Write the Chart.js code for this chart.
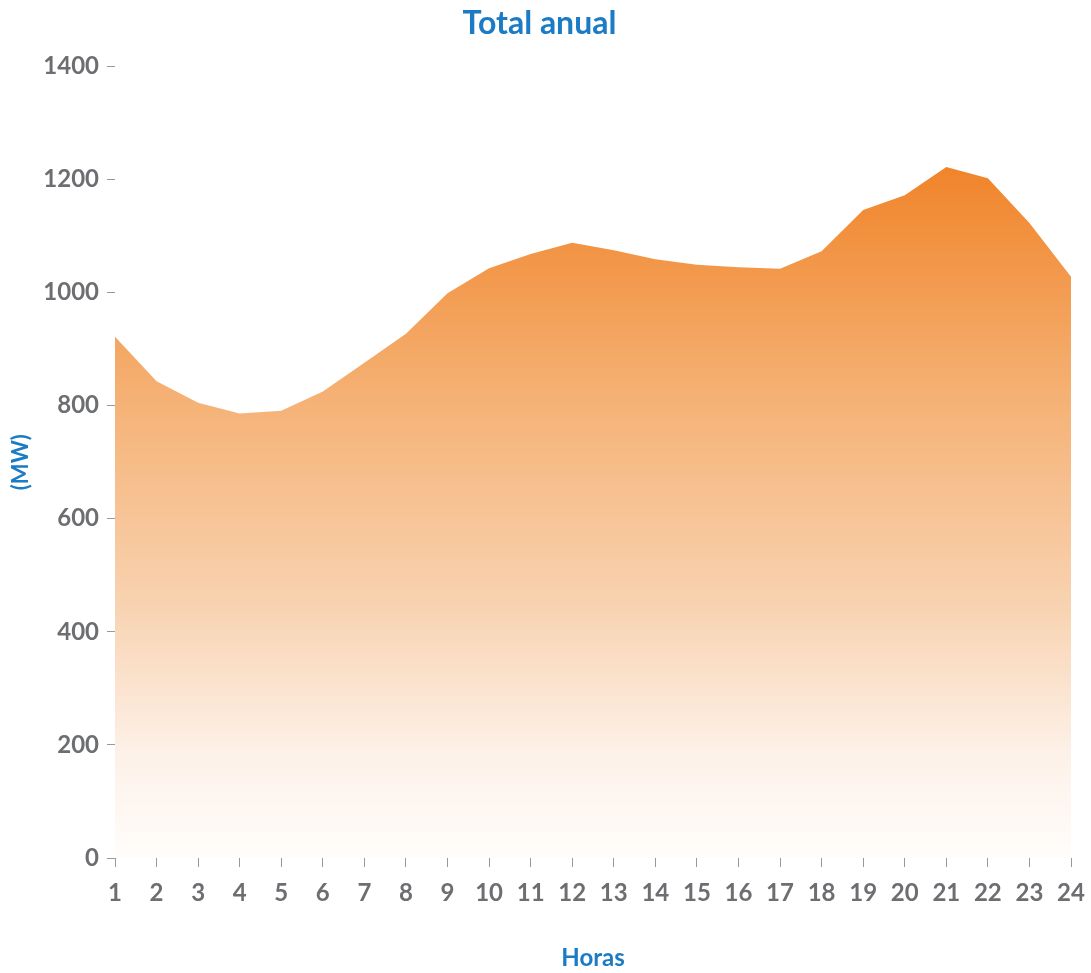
<!DOCTYPE html>
<html>
<head>
<meta charset="utf-8">
<script src="https://cdn.jsdelivr.net/npm/chart.js@4/dist/chart.umd.min.js"></script>
<style>
  html, body { margin: 0; padding: 0; background: #fff; }
  #wrap { width: 1091px; height: 973px; position: relative; }
</style>
</head>
<body>
<div id="wrap"><canvas id="myChart" width="1091" height="973"></canvas></div>
<script>
const hours = ['1','2','3','4','5','6','7','8','9','10','11','12','13','14','15','16','17','18','19','20','21','22','23','24'];
const demandMW = [922, 843, 805, 786, 791, 825, 876, 927, 999, 1043, 1068, 1088, 1075, 1059, 1049, 1045, 1042, 1073, 1146, 1172, 1222, 1202, 1123, 1028];
const yTicks = [0, 200, 400, 600, 800, 1000, 1200, 1400];

const blue = '#1b7bc4';
const grey = '#6d6e71';
const fontFamily = 'Lato, "Open Sans", sans-serif';

function areaFill(context) {
    const chart = context.chart;
    const yScale = chart.scales.y;
    if (!chart.chartArea || !yScale) return '#f5b276';
    const top = yScale.getPixelForValue(Math.max(...demandMW));
    const bottom = yScale.getPixelForValue(0);
    const g = chart.ctx.createLinearGradient(0, top, 0, bottom);
    g.addColorStop(0, '#f0842a');
    g.addColorStop(0.34, '#f5b276');
    g.addColorStop(0.63, '#f8d2b0');
    g.addColorStop(0.85, '#fdf1e8');
    g.addColorStop(1, '#fffdfb');
    return g;
}

const ctx = document.getElementById('myChart').getContext('2d');
window.myChart = new Chart(ctx, {
    type: 'line',
    data: {
        labels: hours,
        datasets: [{
            label: 'Total anual',
            data: demandMW,
            fill: 'origin',
            backgroundColor: areaFill,
            borderWidth: 0,
            borderColor: 'rgba(0,0,0,0)',
            pointRadius: 0,
            tension: 0
        }]
    },
    options: {
        responsive: false,
        animation: false,
        layout: { padding: { top: 4, right: 20, left: 8, bottom: 0 } },
        plugins: {
            legend: { display: false },
            tooltip: { enabled: false },
            title: {
                display: true,
                text: 'Total anual',
                color: blue,
                font: { family: fontFamily, size: 32, weight: 'bold' },
                padding: { top: 0, bottom: 24 }
            }
        },
        scales: {
            x: {
                offset: false,
                grid: { drawOnChartArea: false, tickLength: 9, color: '#999', tickWidth: 1 },
                border: { display: false },
                afterFit: axis => { axis.height = 115; axis.paddingRight = 0; },
                ticks: {
                    color: grey,
                    font: { family: fontFamily, size: 24, weight: 'bold' },
                    padding: 12,
                    maxRotation: 0,
                    autoSkip: false
                },
                title: {
                    display: true,
                    text: 'Horas',
                    color: blue,
                    font: { family: fontFamily, size: 24, weight: 'bold' },
                    padding: { top: 38, bottom: 0 }
                }
            },
            y: {
                min: 0,
                max: 1400,
                afterBuildTicks: axis => { axis.ticks = yTicks.map(v => ({ value: v })); },
                afterFit: axis => { axis.width = 107; },
                grid: { drawOnChartArea: false, tickLength: 8, color: '#999', tickWidth: 1 },
                border: { display: false },
                ticks: {
                    color: grey,
                    font: { family: fontFamily, size: 24, weight: 'bold' },
                    padding: 8,
                    callback: v => String(v)
                },
                title: {
                    display: true,
                    text: '(MW)',
                    color: blue,
                    font: { family: fontFamily, size: 22, weight: 'bold' },
                    padding: { top: 0, bottom: 0 }
                }
            }
        }
    }
});
</script>
</body>
</html>
